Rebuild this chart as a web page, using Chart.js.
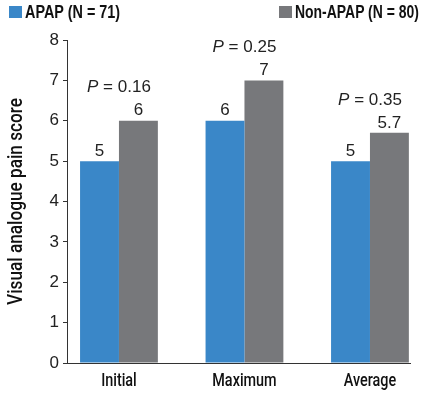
<!DOCTYPE html>
<html>
<head>
<meta charset="utf-8">
<script src="https://cdn.jsdelivr.net/npm/chart.js@4"></script>
<style>
  html, body { margin: 0; padding: 0; background: #fff; }
  #wrap { position: relative; width: 425px; height: 394px; }
  .leg { position: absolute; top: 1px; font: bold 18px 'Liberation Sans', Arial, sans-serif; color: #111; white-space: nowrap; line-height: 22px; }
  .leg i { position: absolute; top: 5px; left: 0; width: 13px; height: 12px; }
  .leg span { display: inline-block; margin-left: 16px; transform-origin: left center; }
</style>
</head>
<body>
<div id="wrap">
  <canvas id="chart" width="425" height="394"></canvas>
  <div class="leg" style="left:9px"><i style="background:#3a87c8"></i><span style="transform:scaleX(0.8)">APAP (N = 71)</span></div>
  <div class="leg" style="left:279px"><i style="background:#77787b"></i><span style="transform:scaleX(0.775)">Non-APAP (N = 80)</span></div>
</div>
<script>
// Données
const categories = ['Initial', 'Maximum', 'Average'];
const apap = [5, 6, 5];
const nonApap = [6, 7, 5.7];
const nonApapLabels = ['6', '7', '5.7'];
const pValues = ['0.16', '0.25', '0.35'];
const yTicks = [0, 1, 2, 3, 4, 5, 6, 7, 8];
const yTitle = 'Visual analogue pain score';

const plain = "'Liberation Sans', Arial, sans-serif";
const medium = "500 18px Roboto, 'Liberation Sans', sans-serif";

// Texte étroit (police condensée simulée)
function narrowText(ctx, text, x, y, squeeze) {
  ctx.save();
  ctx.translate(x, y);
  ctx.scale(squeeze, 1);
  ctx.fillText(text, 0, 0);
  ctx.restore();
}

// Étiquettes de valeur, valeurs P, catégories et titre de l'axe
const labelPlugin = {
  id: 'barLabels',
  afterDraw(chart) {
    const ctx = chart.ctx;
    const m0 = chart.getDatasetMeta(0).data;
    const m1 = chart.getDatasetMeta(1).data;
    const area = chart.chartArea;
    ctx.save();
    ctx.fillStyle = '#222';
    ctx.textAlign = 'center';
    ctx.textBaseline = 'middle';
    ctx.font = '17px ' + plain;
    m0.forEach((bar, i) => ctx.fillText(String(apap[i]), bar.x, bar.y - 10));
    m1.forEach((bar, i) => ctx.fillText(nonApapLabels[i], bar.x, bar.y - 10));
    // valeurs P
    categories.forEach((c, i) => {
      const top = Math.min(m0[i].y, m1[i].y) - 33;
      const cx = (m0[i].x + m1[i].x) / 2;
      const rest = ' = ' + pValues[i];
      ctx.font = 'italic 17px ' + plain;
      const wp = ctx.measureText('P').width;
      ctx.font = '17px ' + plain;
      const wr = ctx.measureText(rest).width;
      const x0 = cx - (wp + wr) / 2;
      ctx.textAlign = 'left';
      ctx.font = 'italic 17px ' + plain;
      ctx.fillText('P', x0, top);
      ctx.font = '17px ' + plain;
      ctx.fillText(rest, x0 + wp, top);
      ctx.textAlign = 'center';
    });
    // catégories
    ctx.fillStyle = '#111';
    ctx.font = medium;
    categories.forEach((c, i) => {
      narrowText(ctx, c, chart.scales.x.getPixelForValue(i), area.bottom + 18, 0.8);
    });
    // titre de l'axe y
    ctx.font = "500 20px Roboto, 'Liberation Sans', sans-serif";
    ctx.save();
    ctx.translate(17, (area.top + area.bottom) / 2);
    ctx.rotate(-Math.PI / 2);
    ctx.scale(0.86, 1);
    ctx.fillText(yTitle, 0, 0);
    ctx.restore();
    ctx.restore();
  }
};

new Chart(document.getElementById('chart'), {
  type: 'bar',
  data: {
    datasets: [
      { label: 'APAP (N = 71)', data: apap.map((v, i) => ({ x: i, y: v })), backgroundColor: '#3a87c8', categoryPercentage: 0.62, barPercentage: 1.0 },
      { label: 'Non-APAP (N = 80)', data: nonApap.map((v, i) => ({ x: i, y: v })), backgroundColor: '#77787b', categoryPercentage: 0.62, barPercentage: 1.0 }
    ]
  },
  options: {
    responsive: false,
    animation: false,
    layout: { padding: { top: 40, right: 15, left: 0, bottom: 0 } },
    plugins: { legend: { display: false }, tooltip: { enabled: false } },
    scales: {
      x: {
        type: 'linear',
        offset: false,
        min: -0.414,
        max: 2.319,
        afterBuildTicks: s => { s.ticks = categories.map((c, i) => ({ value: i })); },
        afterFit: s => { s.height = 31; },
        grid: { display: true, offset: false, drawOnChartArea: false, drawTicks: false, color: '#333' },
        border: { display: true, color: '#333', width: 1 },
        ticks: { display: false }
      },
      y: {
        min: 0,
        max: 8,
        afterBuildTicks: s => { s.ticks = yTicks.map(v => ({ value: v })); },
        afterFit: s => { s.width = 67; },
        grid: { display: true, drawOnChartArea: false, drawTicks: true, tickLength: 4, color: '#333' },
        border: { display: true, color: '#333', width: 1 },
        ticks: { padding: 4, color: '#222', font: { family: plain, size: 17 } },
        title: { display: false, text: yTitle }
      }
    }
  },
  plugins: [labelPlugin]
});
</script>
</body>
</html>
